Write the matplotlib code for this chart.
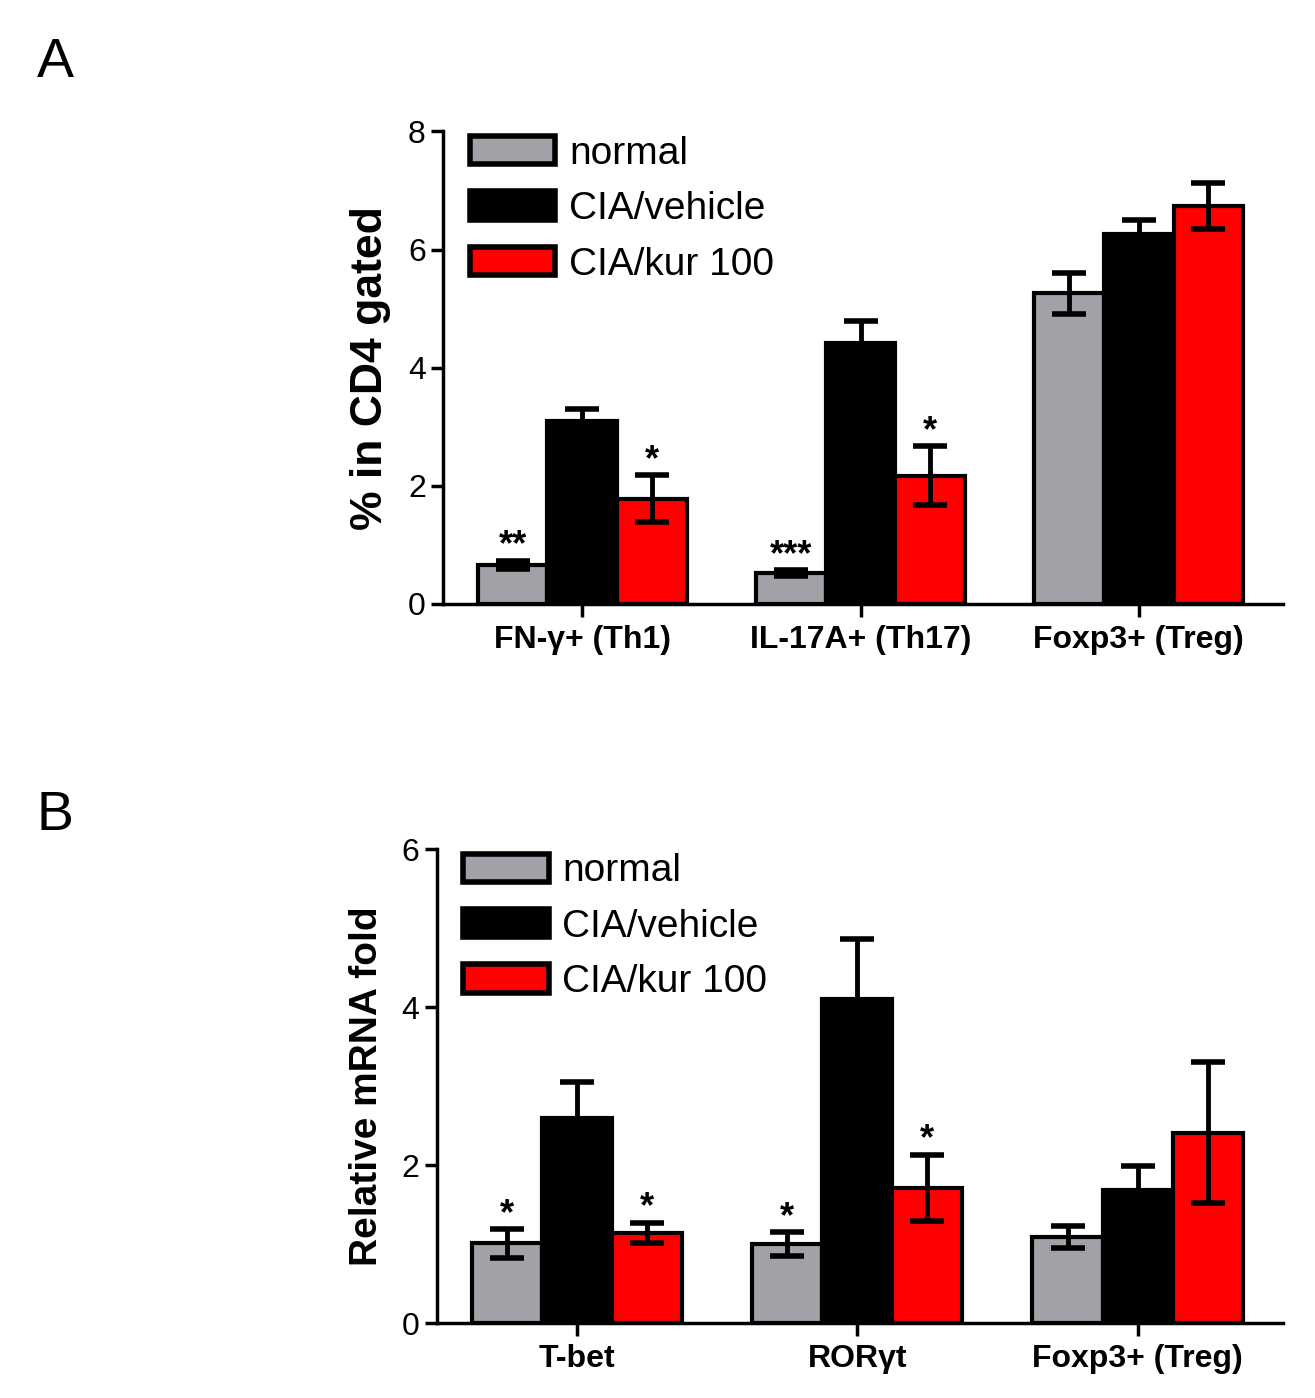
import numpy as np
import matplotlib.pyplot as plt
from matplotlib.patches import Patch

plt.rcParams['font.family'] = ['Liberation Sans', 'DejaVu Sans']

groups = ["normal", "CIA/vehicle", "CIA/kur 100"]
colors = ["#a3a1a8", "#000000", "#ff0000"]

# panel A: flow cytometry
cats_a = ["FN-\u03b3+ (Th1)", "IL-17A+ (Th17)", "Foxp3+ (Treg)"]
mean_a = [[0.66, 0.52, 5.26],
          [3.10, 4.42, 6.26],
          [1.78, 2.17, 6.73]]
sem_a = [[0.07, 0.05, 0.35],
         [0.20, 0.37, 0.24],
         [0.40, 0.50, 0.39]]
stars_a = [["**", "***", ""], ["", "", ""], ["*", "*", ""]]

# panel B: mRNA
cats_b = ["T-bet", "ROR\u03b3t", "Foxp3+ (Treg)"]
mean_b = [[1.01, 1.00, 1.09],
          [2.59, 4.10, 1.68],
          [1.14, 1.71, 2.41]]
sem_b = [[0.18, 0.15, 0.14],
         [0.46, 0.76, 0.31],
         [0.13, 0.42, 0.89]]
stars_b = [["*", "*", ""], ["", "", ""], ["*", "*", ""]]


def panel(ax, cats, means, sems, stars, ylabel, ymax, yticks, ylab_size):
    x = np.arange(len(cats))
    w = 0.25
    for i in range(3):
        xs = x + (i - 1) * w
        ax.bar(xs, means[i], w, color=colors[i], edgecolor="black", linewidth=3, zorder=2)
        ax.errorbar(xs, means[i], yerr=sems[i], fmt="none", ecolor="black",
                    elinewidth=3.5, capsize=12, capthick=4, zorder=3)
        for j in range(len(cats)):
            if stars[i][j]:
                ax.annotate(stars[i][j], (xs[j], means[i][j] + sems[i][j]),
                            xytext=(0, -2), textcoords="offset points",
                            ha="center", va="bottom", fontsize=26, fontweight="bold")
    ax.set_xlim(-0.5, 2.52)
    ax.set_ylim(0, ymax)
    ax.set_yticks(yticks)
    ax.set_xticks(x)
    ax.set_xticklabels(cats, fontsize=23, fontweight="bold")
    ax.tick_params(axis="y", labelsize=23, width=2.5, length=9)
    ax.tick_params(axis="x", width=2.5, length=9, pad=6)
    for s in ["top", "right"]:
        ax.spines[s].set_visible(False)
    for s in ["left", "bottom"]:
        ax.spines[s].set_linewidth(2.5)
    ax.set_ylabel(ylabel, fontsize=ylab_size, fontweight="bold", labelpad=12)
    handles = [Patch(facecolor=c, edgecolor="black", linewidth=4) for c in colors]
    ax.legend(handles, groups, loc="upper left", bbox_to_anchor=(-0.01, 1.065), frameon=False,
              fontsize=28, handlelength=2.2, handleheight=0.75, labelspacing=0.5,
              handletextpad=0.35)


fig = plt.figure(figsize=(13.15, 13.98), dpi=100)
ax_a = fig.add_axes([0.337, 0.568, 0.639, 0.338])
ax_b = fig.add_axes([0.332, 0.0536, 0.644, 0.339])

panel(ax_a, cats_a, mean_a, sem_a, stars_a, "% in CD4 gated", 8, [0, 2, 4, 6, 8], 32)
panel(ax_b, cats_b, mean_b, sem_b, stars_b, "Relative mRNA fold", 6, [0, 2, 4, 6], 28)

fig.text(0.028, 0.945, "A", fontsize=40)
fig.text(0.028, 0.406, "B", fontsize=40)

fig.savefig("out.png", dpi=100)
